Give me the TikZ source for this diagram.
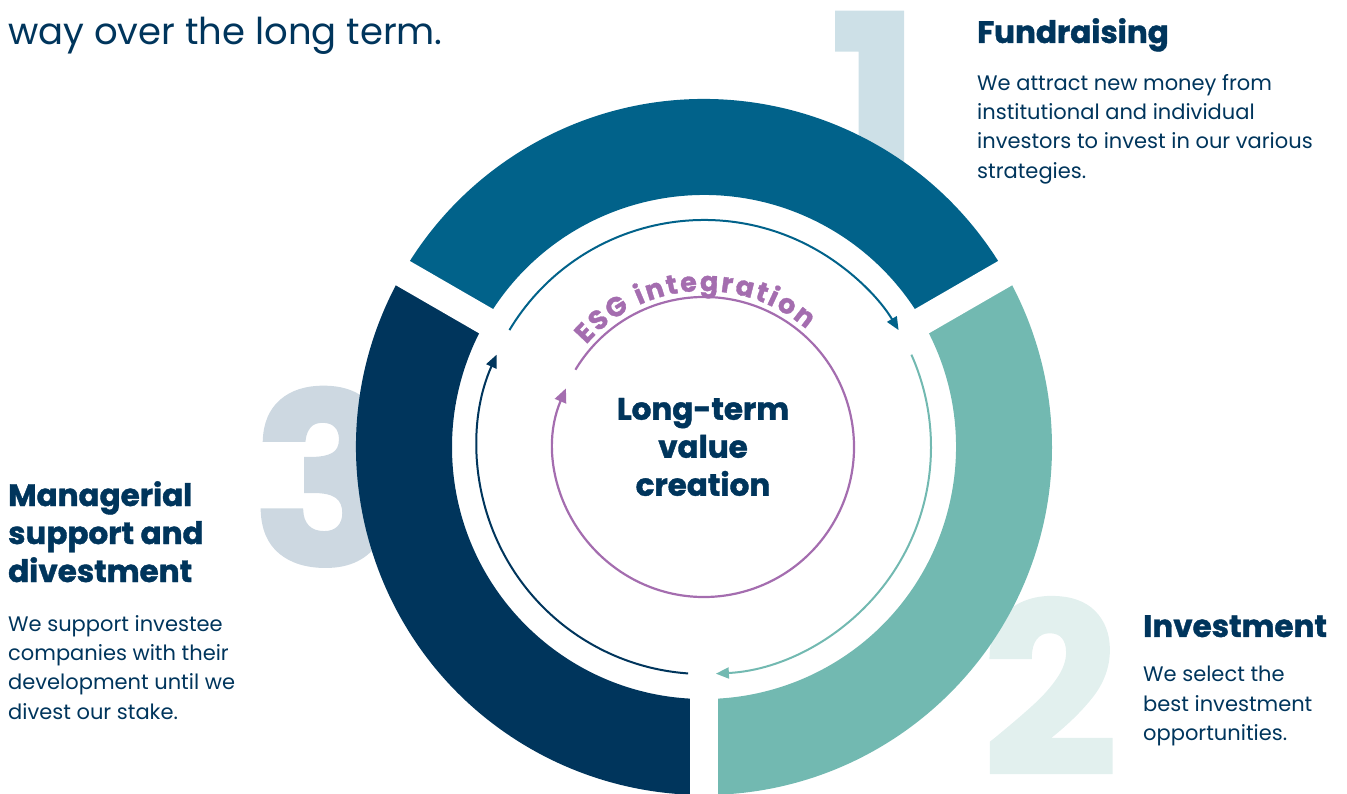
\documentclass[tikz,border=0pt]{standalone}
\usepackage{fontspec}
\setmainfont{Poppins}[BoldFeatures={FakeBold=1.3}]
\usetikzlibrary{arrows.meta, decorations.text}

\definecolor{navy}{RGB}{0,53,92}
\definecolor{ringtop}{RGB}{1,98,138}
\definecolor{ringright}{RGB}{114,185,177}
\definecolor{ringleft}{RGB}{0,53,92}
\definecolor{esg}{RGB}{164,109,175}
\definecolor{numone}{RGB}{205,224,231}
\definecolor{numtwo}{RGB}{226,240,238}
\definecolor{numthree}{RGB}{205,216,225}

\begin{document}
\begin{tikzpicture}[x=1pt, y=1pt]
  \tikzstyle{heading}=[font=\bfseries\fontsize{31}{38}\selectfont, text=navy, align=left, inner sep=0pt]
  \tikzstyle{body}=[font=\fontsize{21}{29.3}\selectfont, text=navy, align=left, inner sep=0pt]
  \tikzstyle{bignum}=[font=\bfseries\fontsize{238}{238}\selectfont, inner sep=0pt, anchor=base west]
  \tikzstyle{loop arrow}=[line width=2pt, -{Triangle[length=13pt, width=11pt]}]

  \useasboundingbox (0,0) rectangle (1347,793);
  \clip (0,0) rectangle (1347,793);

  % Big step numbers, they sit behind the ring.
  \node[bignum, text=numone] (num_1) at (830,607) {1};
  \node[bignum, text=numthree] (num_3) at (252,228) {3};
  \node[bignum, text=numtwo] (num_2) at (982,18) {2};

  % Centre of the ring.
  \coordinate (c) at (704,346);

  % The three ring segments, then white gaps between them.
  \fill[ringtop] (c) ++(30:348) arc[start angle=30, end angle=150, radius=348]
    -- ++(150:-96) arc[start angle=150, end angle=30, radius=252] -- cycle;
  \fill[ringright] (c) ++(-90:348) arc[start angle=-90, end angle=30, radius=348]
    -- ++(30:-96) arc[start angle=30, end angle=-90, radius=252] -- cycle;
  \fill[ringleft] (c) ++(150:348) arc[start angle=150, end angle=270, radius=348]
    -- ++(270:-96) arc[start angle=270, end angle=150, radius=252] -- cycle;
  \foreach \a in {30,150,270}
    \draw[white, line width=28pt] (c) ++(\a:240) -- ++(\a:130);

  % Thin arrows inside the ring.
  \draw[loop arrow, ringtop] (c) ++(149:227) arc[start angle=149, end angle=31, radius=227];
  \draw[loop arrow, ringright] (c) ++(24:227) arc[start angle=24, end angle=-87, radius=227];
  \draw[loop arrow, ringleft] (c) ++(-94:227) arc[start angle=-94, end angle=-204, radius=227];

  % ESG circle and its label.
  \draw[esg, line width=2.2pt, -{Triangle[length=14pt, width=12pt]}]
    (c) ++(149:150) arc[start angle=149, end angle=-203, radius=150];
  \path[decorate, decoration={text along path, text align={fit to path}, text color=esg,
      text={|\bfseries\fontsize{27}{27}\selectfont|ESG integration}}]
    (c) ++(139:156) arc[start angle=139, end angle=49, radius=156];

  \node[heading, align=center] (value) at (703,346) {Long-term\\value\\creation};

  % Texts around the ring.
  \node[font=\fontsize{37}{44}\selectfont, text=navy, anchor=base west, inner sep=0pt]
    (intro) at (8,748) {way over the long term.};
  \node[heading, anchor=base west] (fund_title) at (977,750) {Fundraising};
  \node[body, anchor=north west] (fund_text) at (977,719)
    {We attract new money from\\institutional and individual\\investors to invest in our various\\strategies.};
  \node[heading, anchor=base west] (inv_title) at (1143,156) {Investment};
  \node[body, anchor=north west] (inv_text) at (1143,127)
    {We select the\\best investment\\opportunities.};
  \node[heading, anchor=north west] (man_title) at (8,312)
    {Managerial\\support and\\divestment};
  \node[body, anchor=north west] (man_text) at (8,178)
    {We support investee\\companies with their\\development until we\\divest our stake.};
\end{tikzpicture}
\end{document}
